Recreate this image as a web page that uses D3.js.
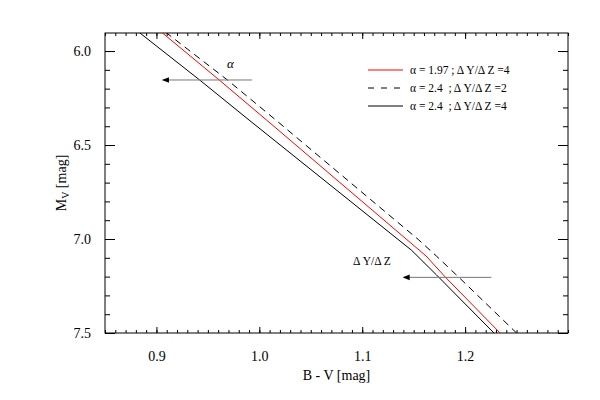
<!DOCTYPE html>
<html>
<head>
<meta charset="utf-8">
<script src="https://cdn.jsdelivr.net/npm/d3@7"></script>
<style>
  body { margin: 0; background: #fff; }
  svg { display: block; }
  text, tspan { font-family: "Liberation Serif" !important; }
</style>
</head>
<body>
<svg id="chart" width="600" height="400" font-family="Liberation Serif"></svg>
<script>
// tracks in the CMD: [B-V, Mv]
const red197 = [[0.905, 5.90], [0.961, 6.154], [1.007, 6.367], [1.162, 7.09], [1.181, 7.204], [1.234, 7.5]];
const dash24 = [[0.909, 5.90], [0.969, 6.154], [1.016, 6.367], [1.155, 7.005], [1.172, 7.09], [1.194, 7.204], [1.250, 7.5]];
const black24 = [[0.883, 5.90], [0.942, 6.154], [0.990, 6.367], [1.148, 7.06], [1.172, 7.19], [1.228, 7.5]];

const legendLabels = ['\u03b1 = 1.97 ; \u0394 Y/\u0394 Z =4', '\u03b1 = 2.4  ; \u0394 Y/\u0394 Z =2', '\u03b1 = 2.4  ; \u0394 Y/\u0394 Z =4'];
const xMajor = [0.9, 1.0, 1.1, 1.2];
const yMajor = [6.0, 6.5, 7.0, 7.5];

const FONT = '"Liberation Serif"';
const svg = d3.select('#chart');
const plot = { left: 105, right: 568, top: 33, bottom: 333 };

const x = d3.scaleLinear().domain([0.85, 1.30]).range([plot.left, plot.right]);
const y = d3.scaleLinear().domain([5.904, 7.5]).range([plot.top, plot.bottom]);

const xMinor = d3.range(85, 131).map(d => d / 100);
const yMinor = d3.range(60, 76).map(d => d / 10);

// axes: ticks drawn inward on all four sides
function axisGroup(axis, tx, ty) {
    const g = svg.append('g').attr('transform', `translate(${tx},${ty})`).call(axis);
    g.select('.domain').remove();
    g.attr('font-family', 'Liberation Serif');
    g.selectAll('line').attr('stroke', '#000').attr('stroke-width', 1);
    return g;
}

const fmt = d3.format('.1f');
// minor ticks
axisGroup(d3.axisBottom(x).tickValues(xMinor).tickSize(-3).tickFormat(''), 0, plot.bottom);
axisGroup(d3.axisTop(x).tickValues(xMinor).tickSize(-3).tickFormat(''), 0, plot.top);
axisGroup(d3.axisLeft(y).tickValues(yMinor).tickSize(-5).tickFormat(''), plot.left, 0);
axisGroup(d3.axisRight(y).tickValues(yMinor).tickSize(-5).tickFormat(''), plot.right, 0);
// major ticks
axisGroup(d3.axisBottom(x).tickValues(xMajor).tickSize(-6).tickPadding(18).tickFormat(fmt), 0, plot.bottom);
axisGroup(d3.axisTop(x).tickValues(xMajor).tickSize(-6).tickFormat(''), 0, plot.top);
axisGroup(d3.axisLeft(y).tickValues(yMajor).tickSize(-10).tickPadding(14).tickFormat(fmt), plot.left, 0);
axisGroup(d3.axisRight(y).tickValues(yMajor).tickSize(-10).tickFormat(''), plot.right, 0);

svg.selectAll('.tick text')
    .attr('font-family', 'Liberation Serif')
    .style('font-family', FONT)
    .attr('font-size', 14)
    .attr('fill', '#000');

// frame
svg.append('rect')
    .attr('x', plot.left).attr('y', plot.top)
    .attr('width', plot.right - plot.left).attr('height', plot.bottom - plot.top)
    .attr('fill', 'none').attr('stroke', '#000').attr('stroke-width', 1);

// axis titles
svg.append('text')
    .attr('x', (plot.left + plot.right) / 2).attr('y', 380)
    .attr('text-anchor', 'middle').attr('font-size', 14)
    .attr('font-family', 'Liberation Serif')
    .style('font-family', FONT)
    .text('B - V [mag]');

const yt = svg.append('text')
    .attr('transform', `translate(66,${(plot.top + plot.bottom) / 2}) rotate(-90)`)
    .attr('text-anchor', 'middle').attr('font-size', 14)
    .attr('font-family', 'Liberation Serif')
    .style('font-family', FONT);
yt.append('tspan').text('M');
yt.append('tspan').attr('font-size', 10).attr('dy', 3).text('V');
yt.append('tspan').attr('dy', -3).text(' [mag]');

// curves
svg.append('clipPath').attr('id', 'clip')
    .append('rect')
    .attr('x', plot.left).attr('y', plot.top)
    .attr('width', plot.right - plot.left).attr('height', plot.bottom - plot.top);

const line = d3.line().x(d => x(d[0])).y(d => y(d[1]));
const series = [
    { data: red197, color: '#ff0000', dash: null },
    { data: dash24, color: '#000', dash: '7,5' },
    { data: black24, color: '#000', dash: null }
];

svg.append('g').attr('clip-path', 'url(#clip)')
    .selectAll('path').data(series).join('path')
    .attr('d', d => line(d.data))
    .attr('fill', 'none')
    .attr('stroke', d => d.color)
    .attr('stroke-width', 1)
    .attr('stroke-dasharray', d => d.dash);

// legend
const legend = svg.append('g');
series.forEach((s, i) => {
    const ly = 70 + i * 18;
    legend.append('line')
        .attr('x1', 368).attr('x2', 403).attr('y1', ly).attr('y2', ly)
        .attr('stroke', s.color).attr('stroke-width', 1)
        .attr('stroke-dasharray', s.dash ? '6,7' : null);
    legend.append('text').attr('x', 410).attr('y', ly + 4).attr('font-size', 11.5)
        .attr('font-family', 'Liberation Serif')
        .style('font-family', FONT)
        .style('white-space', 'pre')
        .text(legendLabels[i]);
});

// arrows
svg.append('defs').append('marker')
    .attr('id', 'head').attr('viewBox', '0 0 10 10')
    .attr('refX', 9).attr('refY', 5)
    .attr('markerWidth', 7).attr('markerHeight', 7)
    .attr('orient', 'auto')
    .append('path').attr('d', 'M0,1 L10,5 L0,9 Z').attr('fill', '#000');

function arrow(bv0, bv1, mv) {
    svg.append('line')
        .attr('x1', x(bv0)).attr('x2', x(bv1)).attr('y1', y(mv)).attr('y2', y(mv))
        .attr('stroke', '#777').attr('stroke-width', 1)
        .attr('marker-end', 'url(#head)');
}
arrow(0.993, 0.906, 6.154);
arrow(1.2255, 1.140, 7.204);

svg.append('text')
    .attr('x', x(0.972)).attr('y', y(6.09))
    .attr('text-anchor', 'middle').attr('font-size', 13).attr('font-style', 'italic')
    .attr('font-family', 'Liberation Serif')
    .style('font-family', FONT)
    .text('\u03b1');
svg.append('text')
    .attr('x', x(1.1095)).attr('y', y(7.14))
    .attr('text-anchor', 'middle').attr('font-size', 11.5)
    .attr('font-family', 'Liberation Serif')
    .style('font-family', FONT)
    .text('\u0394 Y/\u0394 Z');
</script>
</body>
</html>
